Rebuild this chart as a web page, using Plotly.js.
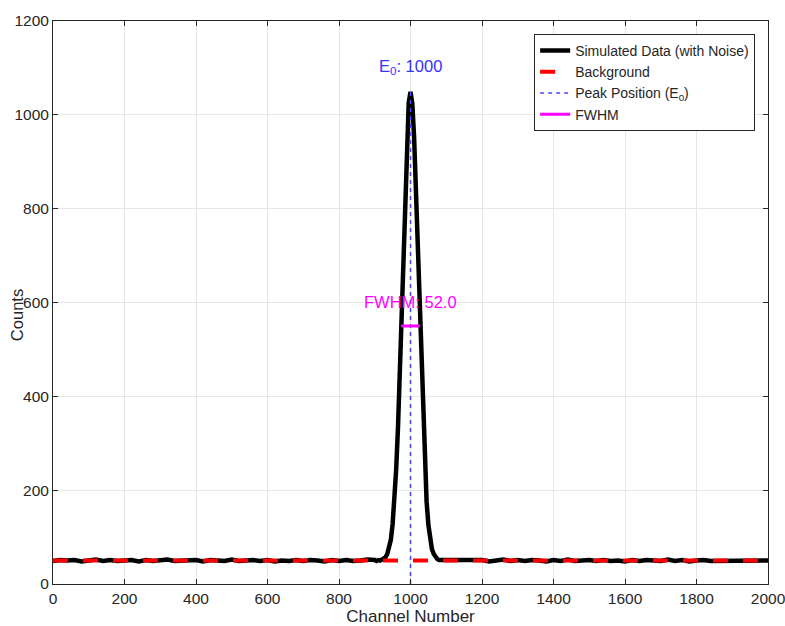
<!DOCTYPE html>
<html>
<head>
<meta charset="utf-8">
<script src="https://cdn.plot.ly/plotly-3.0.1.min.js"></script>
<style>html,body{margin:0;padding:0;background:#fff;}#chart{width:785px;height:626px;}</style>
</head>
<body>
<div id="chart"></div>
<script>
// Simulated spectrum (counts per channel)
const leftChannels = [0,20,40,60,80,100,120,140,160,180,200,220,240,260,280,300,320,340,360,380,400,420,440,460,480,500,520,540,560,580,600,620,640,660,680,700,720,740,760,780,800,820,840,860,880];
const leftCounts = [49,51,50,51,48,50,52,49,51,49,50,51,48,51,49,50,52,49,50,49,51,48,51,50,49,52,49,50,51,49,51,48,50,49,51,49,51,50,48,51,49,51,49,50,52];
const peakChannels = [900,905,910,915,920,925,930,935,940,945,950,955,960,965,970,975,980,985,990,995,1000,1005,1010,1015,1020,1025,1030,1035,1040,1045,1050,1055,1060,1065,1070,1075,1080,1085,1090,1095,1100];
const peakCounts = [51,49,51,50,52,54,57,64,76,94,128,174,245,334,448,578,712,845,951,1026,1049,1024,953,843,714,576,446,336,243,176,126,96,74,64,56,53,51,51,49,51,49];
const rightChannels = [1120,1140,1160,1180,1200,1220,1240,1260,1280,1300,1320,1340,1360,1380,1400,1420,1440,1460,1480,1500,1520,1540,1560,1580,1600,1620,1640,1660,1680,1700,1720,1740,1760,1780,1800,1820,1840,1860,1880,1900,1920,1940,1960,1980,2000];
const rightCounts = [50,49,51,49,51,48,50,52,49,51,49,51,50,48,51,49,52,49,50,51,49,51,49,50,48,51,49,51,50,49,52,49,51,48,50,51,49,49,51,50,49,51,49,51,50];

const bgChannels = [0, 2000];
const bgCounts = [50, 50];
const peakPosX = [1000, 1000];
const peakPosY = [0, 1049];
const fwhmX = [974, 1026];
const fwhmY = [550, 550];
const E0 = 1000;
const fwhmValue = 52.0;
const xTicks = [0,200,400,600,800,1000,1200,1400,1600,1800,2000];
const yTicks = [0,200,400,600,800,1000,1200];

const dataX = leftChannels.concat(peakChannels, rightChannels);
const dataY = leftCounts.concat(peakCounts, rightCounts);

const font = 'Liberation Sans, Arial, Helvetica, sans-serif';
const ink = '#262626';

const traces = [
  {x: dataX, y: dataY, type: 'scatter', mode: 'lines', name: 'Simulated Data (with Noise)',
   line: {color: '#000000', width: 4.5}},
  {x: bgChannels, y: bgCounts, type: 'scatter', mode: 'lines', name: 'Background',
   line: {color: '#ff0000', width: 4, dash: '15px,15px'}},
  {x: peakPosX, y: peakPosY, type: 'scatter', mode: 'lines', name: 'Peak Position (E<sub>0</sub>)',
   line: {color: 'rgb(70,70,255)', width: 1.5, dash: '4px,4px'}},
  {x: fwhmX, y: fwhmY, type: 'scatter', mode: 'lines', name: 'FWHM',
   line: {color: '#ff00ff', width: 3}}
];

const layout = {
  width: 785, height: 626,
  margin: {l: 53, r: 17, t: 21, b: 42, pad: 0},
  paper_bgcolor: '#ffffff', plot_bgcolor: '#ffffff',
  font: {family: font, size: 16, color: ink},
  title: {text: 'Simulated Gamma Ray Peak: E<sub>0</sub> = 1000, FWHM = 52.0', font: {family: font, size: 15, color: '#ffffff'}, x: 0.52, xanchor: 'center', y: 0.995, yanchor: 'top'},
  showlegend: true,
  legend: {x: 0.982, xanchor: 'right', y: 0.977, yanchor: 'top', bgcolor: '#ffffff', bordercolor: ink, borderwidth: 1,
           font: {family: font, size: 14, color: ink}, tracegroupgap: 0},
  xaxis: {range: [0, 2000], tickvals: xTicks, ticktext: xTicks.map(String), ticks: 'inside', ticklen: 5, tickcolor: ink,
          showline: true, linecolor: ink, linewidth: 1, mirror: 'ticks', showgrid: true, gridcolor: '#e6e6e6', zeroline: false,
          ticklabeloverflow: 'allow',
          tickfont: {family: font, size: 15.5, color: ink},
          title: {text: 'Channel Number', font: {family: font, size: 17, color: ink}, standoff: 0}},
  yaxis: {range: [0, 1200], tickvals: yTicks, ticktext: yTicks.map(String), ticks: 'inside', ticklen: 5, tickcolor: ink,
          showline: true, linecolor: ink, linewidth: 1, mirror: 'ticks', showgrid: true, gridcolor: '#e6e6e6', zeroline: false,
          ticklabeloverflow: 'allow',
          tickfont: {family: font, size: 15.5, color: ink}},
  annotations: [
    {x: -0.05, y: 0.478, xref: 'paper', yref: 'paper', text: 'Counts', textangle: -90, showarrow: false,
     font: {family: font, size: 16.5, color: ink}, xanchor: 'center', yanchor: 'middle'},
    {x: E0, y: 1102, xref: 'x', yref: 'y', text: 'E<sub>0</sub>: ' + E0, showarrow: false,
     font: {family: font, size: 16.5, color: '#3333ff'}, xanchor: 'center', yanchor: 'middle'},
    {x: E0, y: 601, xref: 'x', yref: 'y', text: 'FWHM: ' + fwhmValue.toFixed(1), showarrow: false,
     font: {family: font, size: 16.5, color: '#ff00ff'}, xanchor: 'center', yanchor: 'middle'}
  ]
};

Plotly.newPlot('chart', traces, layout, {displayModeBar: false, staticPlot: true});
</script>
</body>
</html>
